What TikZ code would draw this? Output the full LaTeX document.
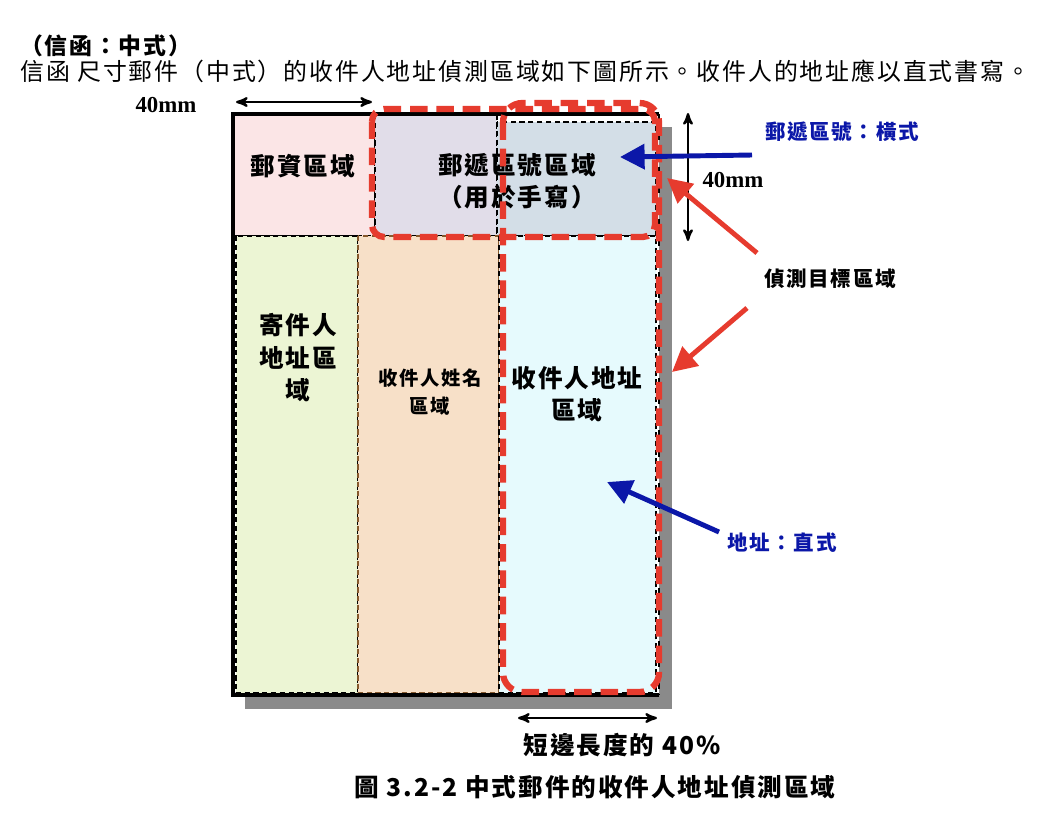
\documentclass[tikz,border=0pt]{standalone}
\usepackage{fontspec}
\usepackage{xcolor}
\setmainfont{Liberation Serif}
\newfontfamily\cjk{Noto Sans CJK TC}[LetterSpace=8]
\usetikzlibrary{arrows, arrows.meta, positioning}

\definecolor{stampPink}{HTML}{FBE5E6}
\definecolor{codeLilac}{HTML}{E1DDE9}
\definecolor{codeGrey}{HTML}{D3DEE7}
\definecolor{senderGreen}{HTML}{ECF5D4}
\definecolor{nameTan}{HTML}{F7E0C8}
\definecolor{addrCyan}{HTML}{E6FAFD}
\definecolor{markRed}{HTML}{E63B2E}
\definecolor{noteBlue}{HTML}{0B17A8}
\definecolor{shadowGrey}{HTML}{8A8A8A}

\newcommand{\boxfont}{\cjk\bfseries\fontsize{14}{18.5}\selectfont}
\newcommand{\notefont}{\cjk\bfseries\fontsize{11.7}{14}\selectfont}

\tikzset{
	zone/.style = {draw=black, line width=0.6pt, dash pattern=on 3pt off 2pt},
	target/.style = {draw=markRed, line width=3.6pt, dash pattern=on 10pt off 5pt},
	measure/.style = {<->, line width=1.3pt},
	fatarrow/.style = {line width=2.8pt, -{Triangle[length=14pt, width=14pt]}},
	boxlabel/.style = {font=\boxfont, align=center, inner sep=0pt},
}

\begin{document}
\begin{tikzpicture}[> = stealth', x=0.02cm, y=-0.02cm]
			\useasboundingbox (0,0) rectangle (1038,826);
			
			% heading
			\node [anchor=west, inner sep=0pt, font=\cjk\bfseries\fontsize{13}{15}\selectfont] (head) at (20,46) {（信函：中式）};
			\node [anchor=west, inner sep=0pt, font=\cjk\fontsize{13.6}{15}\selectfont] (intro) at (20,71)
			{信函 尺寸郵件（中式）的收件人地址偵測區域如下圖所示。收件人的地址應以直式書寫。};
			
			% envelope
			\fill [shadowGrey] (245,127) rectangle (672,709);
			\fill [white] (233,114) rectangle (659,695);
			\draw [zone, fill=stampPink] (233,114) rectangle (375,236);
			\draw [zone, fill=codeLilac] (375,114) rectangle (497,236);
			\draw [zone, fill=codeGrey] (497,122) rectangle (656,236);
			\draw [zone, fill=senderGreen] (236,236) rectangle (358,693);
			\draw [zone, draw=brown!70!black, fill=nameTan] (358,236) rectangle (499,693);
			\draw [zone, fill=addrCyan] (499,236) rectangle (656,693);
			\draw [line width=2.5pt] (659,114) -- (233,114) -- (233,695) -- (659,695);
			\draw [line width=1.2pt, dash pattern=on 3pt off 3pt] (659,114) -- (659,695);
			
			% labels inside
			\node [boxlabel] (stamp) at (303,166) {郵資區域};
			\node [boxlabel] (code) at (517,181) {郵遞區號區域\\（用於手寫）};
			\node [boxlabel] (sender) at (298,358) {寄件人\\地址區\\域};
			\node [boxlabel, font=\cjk\bfseries\fontsize{11}{15.5}\selectfont] (name) at (430,392) {收件人姓名\\區域};
			\node [boxlabel] (addr) at (577,394) {收件人地址\\區域};
			
			% detection regions
			\draw [target, rounded corners=7pt] (372,109) rectangle (655,237);
			\draw [target, rounded corners=11pt] (503,103) rectangle (659,692);
			
			% measures
			\coordinate (wl) at (236,102);
			\coordinate (wr) at (372,102);
			\draw [measure] (wl) -- (wr);
			\node [font=\bfseries\fontsize{13}{15}\selectfont] (wlen) at (166,105) {40mm};
			
			\coordinate (ht) at (688,113);
			\coordinate (hb) at (688,241);
			\draw [measure] (ht) -- (hb);
			\node [font=\bfseries\fontsize{13}{15}\selectfont] (hlen) at (733,180) {40mm};
			
			\coordinate (bl) at (518,718);
			\coordinate (br) at (657,718);
			\draw [measure] (bl) -- (br);
			\node [font=\boxfont] (share) at (622,745) {短邊長度的 40\%};
			
			% notes
			\node [font=\notefont, text=noteBlue] (codenote) at (842,132) {郵遞區號：橫式};
			\coordinate (cn) at (752,155);
			\coordinate (cp) at (620,157);
			\draw [fatarrow, noteBlue] (cn) -- (cp);
			
			\node [font=\notefont] (aim) at (830,279) {偵測目標區域};
			\coordinate (r1) at (757,253);
			\coordinate (r1h) at (667,178);
			\coordinate (r2) at (747,308);
			\coordinate (r2h) at (672,372);
			\draw [fatarrow, markRed] (r1) -- (r1h);
			\draw [fatarrow, markRed] (r2) -- (r2h);
			
			\node [font=\notefont, text=noteBlue] (addrnote) at (782,543) {地址：直式};
			\coordinate (an) at (719,532);
			\coordinate (ap) at (607,482);
			\draw [fatarrow, noteBlue] (an) -- (ap);
			
			% caption
			\node [font=\boxfont] (cap) at (595,787) {圖 3.2-2 中式郵件的收件人地址偵測區域};
		\end{tikzpicture}
\end{document}
